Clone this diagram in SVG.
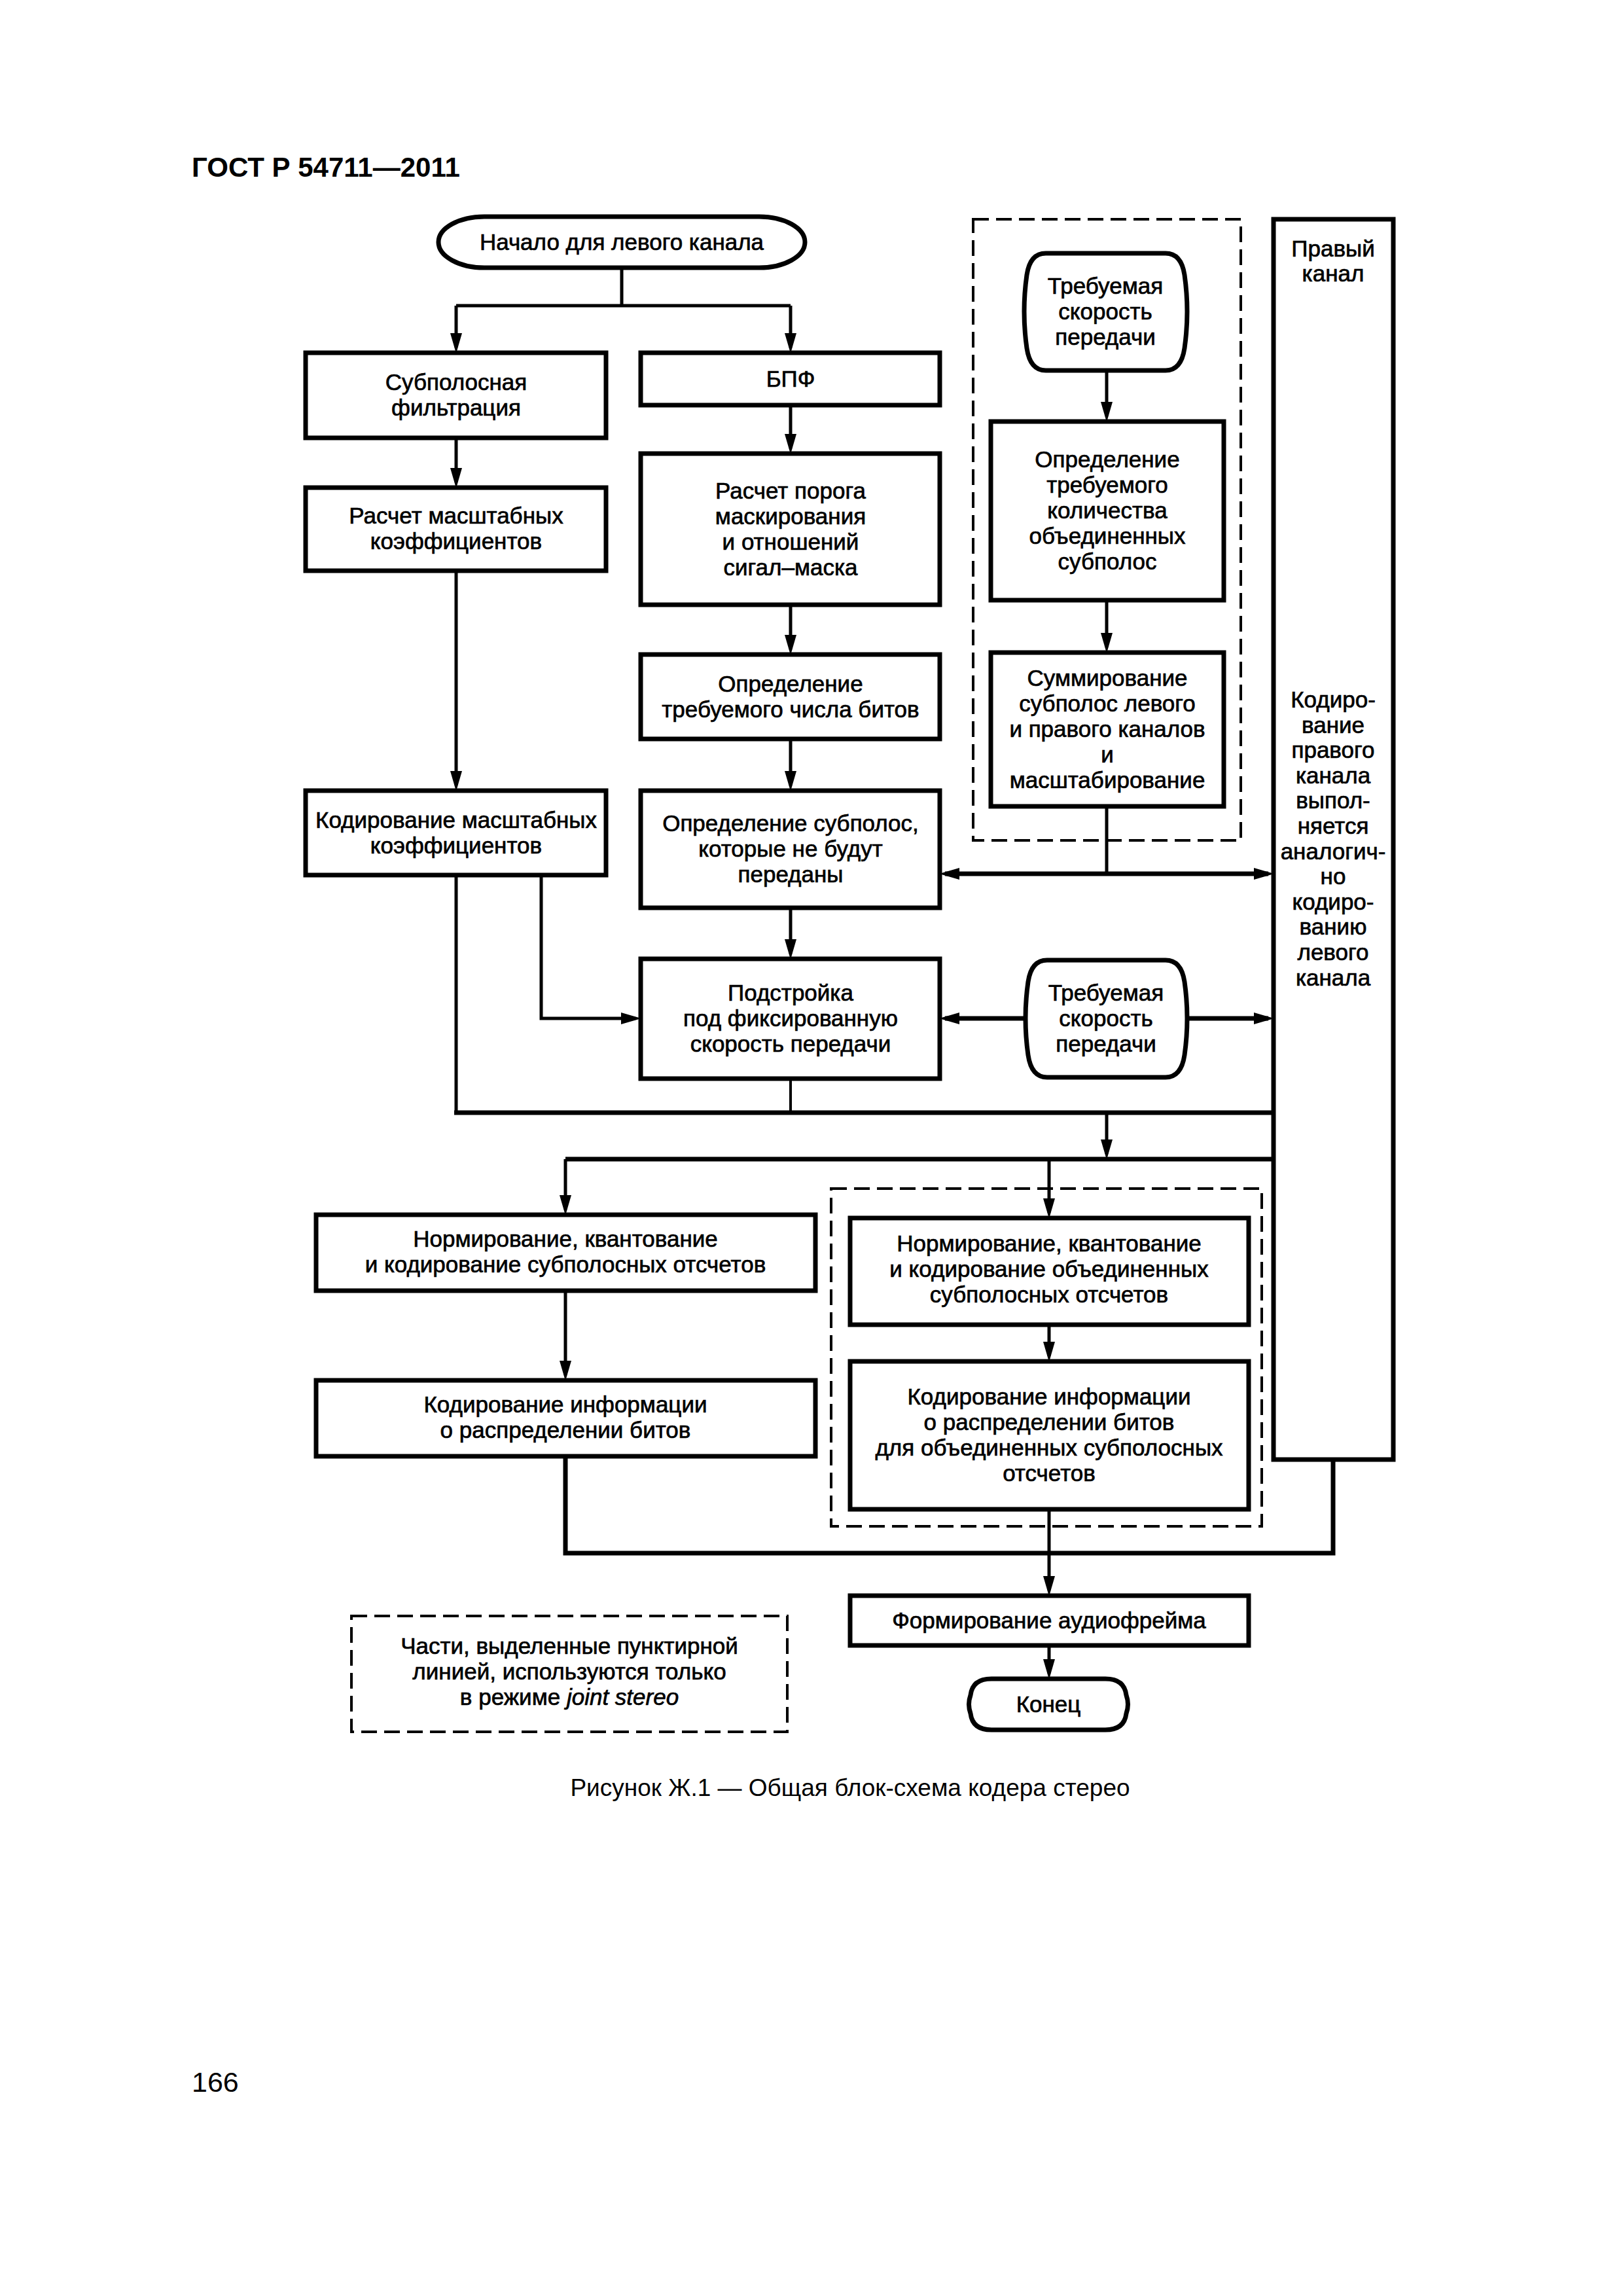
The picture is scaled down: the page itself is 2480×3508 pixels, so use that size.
<svg xmlns="http://www.w3.org/2000/svg" width="2480" height="3508" viewBox="0 0 2480 3508">
<style>
.bg{fill:#fff}
.box{fill:#fff;stroke:#000;stroke-width:7}
.dash{fill:none;stroke:#000;stroke-width:4;stroke-dasharray:24 11}
.ln{fill:none;stroke:#000;stroke-width:5}
.bus{fill:none;stroke:#000;stroke-width:7}
.thin{fill:none;stroke:#000;stroke-width:4}
text{font-family:"Liberation Sans",Arial,sans-serif;font-size:35px;text-anchor:middle;fill:#000;stroke:#000;stroke-width:0.7}
.title{font-size:42px;font-weight:bold;text-anchor:start;stroke-width:0}
.cap{font-size:37px;stroke-width:0}
.pg{font-size:43px;text-anchor:start;stroke-width:0}
</style>
<defs>
<marker id="ah" markerUnits="userSpaceOnUse" markerWidth="32" markerHeight="20" viewBox="0 0 32 20" refX="22" refY="10" orient="auto-start-reverse">
<path d="M0,1 L31,10 L0,19 Z" fill="#000"/>
</marker>
</defs>
<rect class="bg" x="0" y="0" width="2480" height="3508"/>
<text class="title" x="293" y="270">ГОСТ Р 54711—2011</text>

<g id="dashed-groups">
<rect id="jointstereo-top" class="dash" x="1487" y="335" width="409" height="949"/>
<rect id="jointstereo-bottom" class="dash" x="1270" y="1816" width="658" height="516"/>
</g>

<g id="connectors">
<path class="ln" d="M950,409 V467 M697,467 H1208"/>
<path class="ln" d="M697,467 V531" marker-end="url(#ah)"/>
<path class="ln" d="M1208,467 V531" marker-end="url(#ah)"/>
<path class="ln" d="M697,669 V737" marker-end="url(#ah)"/>
<path class="ln" d="M1208,619 V685" marker-end="url(#ah)"/>
<path class="ln" d="M1208,924 V992" marker-end="url(#ah)"/>
<path class="ln" d="M1208,1129 V1200" marker-end="url(#ah)"/>
<path class="ln" d="M697,872 V1200" marker-end="url(#ah)"/>
<path class="ln" d="M1691,566 V636" marker-end="url(#ah)"/>
<path class="ln" d="M1691,917 V989" marker-end="url(#ah)"/>
<path class="ln" d="M1691,1232 V1335"/>
<path class="bus" d="M1444,1335 H1938" marker-start="url(#ah)" marker-end="url(#ah)"/>
<path class="ln" d="M1208,1387 V1457" marker-end="url(#ah)"/>
<path class="bus" d="M1565,1556 H1444" marker-end="url(#ah)"/>
<path class="bus" d="M1816,1556 H1938" marker-end="url(#ah)"/>
<path class="ln" d="M697,1337 V1700"/>
<path class="ln" d="M827,1337 V1556 H971" marker-end="url(#ah)"/>
<path class="thin" d="M1208,1648 V1700"/>
<path class="bus" d="M694,1700 H1946"/>
<path class="ln" d="M1691,1700 V1763" marker-end="url(#ah)"/>
<path class="bus" d="M864,1771 H1946"/>
<path class="ln" d="M864,1771 V1848" marker-end="url(#ah)"/>
<path class="ln" d="M1603,1771 V1853" marker-end="url(#ah)"/>
<path class="ln" d="M864,1972 V2101" marker-end="url(#ah)"/>
<path class="ln" d="M1603,2024 V2072" marker-end="url(#ah)"/>
<path class="bus" d="M864,2225 V2373 H2037 V2230"/>
<path class="ln" d="M1603,2306 V2430" marker-end="url(#ah)"/>
<path class="ln" d="M1603,2514 V2557" marker-end="url(#ah)"/>
</g>

<g id="start">
<path class="box" d="M740,331 H1160 A70,39 0 0 1 1160,409 H740 A70,39 0 0 1 740,331 Z"/>
<text x="950" y="382">Начало для левого канала</text>
</g>

<g id="subband-filter">
<rect class="box" x="467" y="539" width="459" height="130"/>
<text x="697" y="596">Субполосная</text>
<text x="697" y="635">фильтрация</text>
</g>

<g id="fft">
<rect class="box" x="979" y="539" width="457" height="80"/>
<text x="1208" y="591">БПФ</text>
</g>

<g id="scale-factors">
<rect class="box" x="467" y="745" width="459" height="127"/>
<text x="697" y="800">Расчет масштабных</text>
<text x="697" y="839">коэффициентов</text>
</g>

<g id="masking">
<rect class="box" x="979" y="693" width="457" height="231"/>
<text x="1208" y="762">Расчет порога</text>
<text x="1208" y="801">маскирования</text>
<text x="1208" y="840">и отношений</text>
<text x="1208" y="879">сигал–маска</text>
</g>

<g id="bits-needed">
<rect class="box" x="979" y="1000" width="457" height="129"/>
<text x="1208" y="1057">Определение</text>
<text x="1208" y="1096">требуемого числа битов</text>
</g>

<g id="subbands-not-sent">
<rect class="box" x="979" y="1208" width="457" height="179"/>
<text x="1208" y="1270">Определение субполос,</text>
<text x="1208" y="1309">которые не будут</text>
<text x="1208" y="1348">переданы</text>
</g>

<g id="scale-coding">
<rect class="box" x="467" y="1208" width="459" height="129"/>
<text x="697" y="1265">Кодирование масштабных</text>
<text x="697" y="1304">коэффициентов</text>
</g>

<g id="bitrate-top">
<path class="box" d="M1598,387 H1781 Q1805,387 1810,420 Q1818,476 1810,532 Q1805,566 1781,566 H1598 Q1574,566 1569,532 Q1561,476 1569,420 Q1574,387 1598,387 Z"/>
<text x="1689" y="449">Требуемая</text>
<text x="1689" y="488">скорость</text>
<text x="1689" y="527">передачи</text>
</g>

<g id="joint-count">
<rect class="box" x="1514" y="644" width="356" height="273"/>
<text x="1692" y="714">Определение</text>
<text x="1692" y="753">требуемого</text>
<text x="1692" y="792">количества</text>
<text x="1692" y="831">объединенных</text>
<text x="1692" y="870">субполос</text>
</g>

<g id="summing">
<rect class="box" x="1514" y="997" width="356" height="235"/>
<text x="1692" y="1048">Суммирование</text>
<text x="1692" y="1087">субполос левого</text>
<text x="1692" y="1126">и правого каналов</text>
<text x="1692" y="1165">и</text>
<text x="1692" y="1204">масштабирование</text>
</g>

<g id="right-channel">
<rect class="box" x="1946" y="335" width="183" height="1895"/>
<text x="2037" y="392">Правый</text>
<text x="2037" y="430">канал</text>
<text x="2037" y="1081">Кодиро-</text>
<text x="2037" y="1120">вание</text>
<text x="2037" y="1158">правого</text>
<text x="2037" y="1197">канала</text>
<text x="2037" y="1235">выпол-</text>
<text x="2037" y="1274">няется</text>
<text x="2037" y="1313">аналогич-</text>
<text x="2037" y="1351">но</text>
<text x="2037" y="1390">кодиро-</text>
<text x="2037" y="1428">ванию</text>
<text x="2037" y="1467">левого</text>
<text x="2037" y="1506">канала</text>
</g>

<g id="rate-adjust">
<rect class="box" x="979" y="1465" width="457" height="183"/>
<text x="1208" y="1529">Подстройка</text>
<text x="1208" y="1568">под фиксированную</text>
<text x="1208" y="1607">скорость передачи</text>
</g>

<g id="bitrate-mid">
<path class="box" d="M1600,1467 H1781 Q1805,1467 1810,1500 Q1818,1556 1810,1612 Q1805,1646 1781,1646 H1600 Q1576,1646 1571,1612 Q1563,1556 1571,1500 Q1576,1467 1600,1467 Z"/>
<text x="1690" y="1529">Требуемая</text>
<text x="1690" y="1568">скорость</text>
<text x="1690" y="1607">передачи</text>
</g>

<g id="quant-left">
<rect class="box" x="483" y="1856" width="763" height="116"/>
<text x="864" y="1905">Нормирование, квантование</text>
<text x="864" y="1944">и кодирование субполосных отсчетов</text>
</g>

<g id="bitalloc-left">
<rect class="box" x="483" y="2109" width="763" height="116"/>
<text x="864" y="2158">Кодирование информации</text>
<text x="864" y="2197">о распределении битов</text>
</g>

<g id="quant-joint">
<rect class="box" x="1299" y="1861" width="609" height="163"/>
<text x="1603" y="1912">Нормирование, квантование</text>
<text x="1603" y="1951">и кодирование объединенных</text>
<text x="1603" y="1990">субполосных отсчетов</text>
</g>

<g id="bitalloc-joint">
<rect class="box" x="1299" y="2080" width="609" height="226"/>
<text x="1603" y="2146">Кодирование информации</text>
<text x="1603" y="2185">о распределении битов</text>
<text x="1603" y="2224">для объединенных субполосных</text>
<text x="1603" y="2263">отсчетов</text>
</g>

<g id="frame">
<rect class="box" x="1299" y="2438" width="609" height="76"/>
<text x="1603" y="2488">Формирование аудиофрейма</text>
</g>

<g id="end">
<path class="box" d="M1515,2565 H1689 Q1718,2565 1721,2590 Q1726,2604 1721,2618 Q1718,2643 1689,2643 H1515 Q1486,2643 1483,2618 Q1478,2604 1483,2590 Q1486,2565 1515,2565 Z"/>
<text x="1602" y="2616">Конец</text>
</g>

<g id="note">
<rect class="dash" x="537" y="2469" width="666" height="177"/>
<text x="870" y="2527">Части, выделенные пунктирной</text>
<text x="870" y="2566">линией, используются только</text>
<text x="870" y="2605">в режиме <tspan font-style="italic">joint stereo</tspan></text>
</g>

<text class="cap" x="1299" y="2744">Рисунок Ж.1 — Общая блок-схема кодера стерео</text>
<text class="pg" x="293" y="3196">166</text>
</svg>
